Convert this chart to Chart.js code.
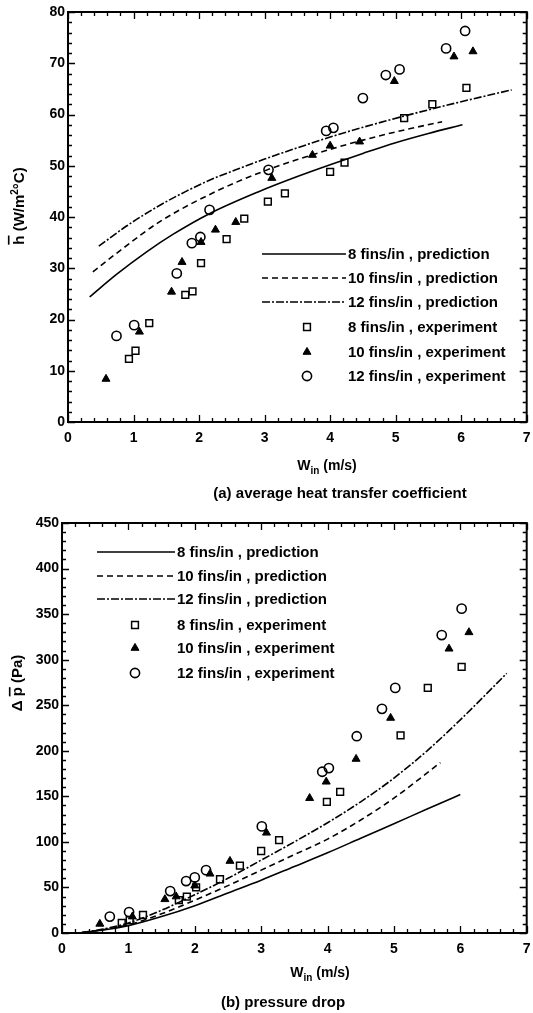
<!DOCTYPE html>
<html>
<head>
<meta charset="utf-8">
<script src="https://cdn.jsdelivr.net/npm/chart.js@4.4.0/dist/chart.umd.min.js"></script>
<style>
  html, body { margin: 0; padding: 0; background: #fff; }
  #wrap { position: relative; width: 533px; height: 1013px; }
  canvas { position: absolute; left: 0; }
</style>
</head>
<body>
<div id="wrap">
  <canvas id="hChart" width="533" height="505" style="top:0"></canvas>
  <canvas id="pChart" width="533" height="508" style="top:505px"></canvas>
</div>
<script>
// ---- data ----
const seriesLabels = ["8 fins/in , prediction", "10 fins/in , prediction", "12 fins/in , prediction",
                      "8 fins/in , experiment", "10 fins/in , experiment", "12 fins/in , experiment"];
const xTicks = [0, 1, 2, 3, 4, 5, 6, 7];
const hTicks = [0, 10, 20, 30, 40, 50, 60, 70, 80];
const dpTicks = [0, 50, 100, 150, 200, 250, 300, 350, 400, 450];

// (a) average heat transfer coefficient, [W_in m/s, h W/m2C]
const hPred8 = [[0.33, 24.4], [0.74, 28.8], [1.2, 33.2], [1.6, 36.6], [2.15, 40.6], [2.9, 44.9], [3.5, 47.9],
                [4.0, 50.2], [4.5, 52.4], [5.0, 54.5], [5.5, 56.3], [6.02, 58.0]];
const hPred10 = [[0.38, 29.3], [0.8, 33.5], [1.39, 39.0], [2.26, 45.0], [3.0, 49.0], [3.5, 51.2], [4.0, 53.2],
                 [4.5, 55.0], [5.0, 56.6], [5.71, 58.6]];
const hPred12 = [[0.47, 34.3], [0.9, 38.3], [1.39, 42.2], [1.8, 45.0], [2.2, 47.4], [2.6, 49.4], [3.0, 51.3],
                 [3.5, 53.5], [4.0, 55.6], [4.5, 57.5], [5.1, 59.6], [5.56, 61.1], [6.0, 62.5], [6.77, 64.8]];
const hExp8 = [[0.93, 12.3], [1.03, 13.9], [1.24, 19.3], [1.79, 24.8], [1.9, 25.5], [2.03, 31.0], [2.42, 35.7],
               [2.69, 39.7], [3.05, 43.0], [3.31, 44.6], [4.0, 48.8], [4.22, 50.6], [5.13, 59.3], [5.56, 62.0], [6.08, 65.2]];
const hExp10 = [[0.58, 8.4], [1.09, 17.6], [1.58, 25.4], [1.74, 31.2], [2.03, 35.1], [2.25, 37.5], [2.56, 39.0],
                [3.11, 47.6], [3.73, 52.1], [4.0, 53.9], [4.45, 54.7], [4.98, 66.5], [5.89, 71.3], [6.18, 72.3]];
const hExp12 = [[0.74, 16.8], [1.01, 18.9], [1.66, 29.0], [1.89, 34.9], [2.02, 36.1], [2.16, 41.4], [3.06, 49.2],
                [3.94, 56.8], [4.05, 57.4], [4.5, 63.2], [4.85, 67.7], [5.06, 68.8], [5.77, 72.9], [6.06, 76.3]];

// (b) pressure drop, [W_in m/s, dp Pa]
const dpPred8 = [[0.3, 0.5], [0.6, 3], [1.0, 8], [1.5, 18], [2.0, 30], [2.5, 44], [3.0, 58], [3.5, 73], [4.0, 88],
                 [4.5, 104], [5.0, 120], [5.5, 136], [6.0, 152]];
const dpPred10 = [[0.3, 0.5], [0.6, 3.5], [1.0, 9], [1.5, 21], [2.0, 36], [2.5, 52], [3.0, 69], [3.5, 86], [4.0, 103],
                  [4.5, 124], [5.0, 148], [5.7, 187]];
const dpPred12 = [[0.3, 0.5], [0.6, 4], [1.0, 11], [1.5, 25], [2.0, 42], [2.5, 60], [3.0, 80], [3.5, 100], [4.0, 121],
                  [4.5, 144], [5.0, 170], [5.5, 200], [6.0, 234], [6.7, 285]];
const dpExp8 = [[0.9, 11], [1.02, 14], [1.22, 20], [1.76, 36], [1.88, 40], [2.02, 50], [2.38, 59], [2.68, 74],
                [3.0, 90], [3.27, 102], [3.99, 144], [4.19, 155], [5.1, 217], [5.51, 269], [6.02, 292]];
const dpExp10 = [[0.57, 10], [1.06, 18], [1.55, 37], [1.72, 40], [2.0, 52], [2.23, 65], [2.53, 79], [3.08, 110],
                 [3.73, 148], [3.98, 166], [4.43, 191], [4.95, 236], [5.83, 312], [6.13, 330]];
const dpExp12 = [[0.72, 18], [1.01, 23], [1.63, 46], [1.87, 57], [2.0, 61], [2.17, 69], [3.01, 117], [3.92, 177],
                 [4.02, 181], [4.44, 216], [4.82, 246], [5.02, 269], [5.72, 327], [6.02, 356]];

const FONT = '"Liberation Sans", Arial, sans-serif';
Chart.defaults.font.family = FONT;
Chart.defaults.font.weight = 'bold';
Chart.defaults.color = '#000';

// frame box with inward major/minor ticks on all four sides
const frameTicks = {
  id: 'frameTicks',
  afterDatasetsDraw(chart, args, o) {
    const { ctx, chartArea: a, scales: { x, y } } = chart;
    ctx.save();
    ctx.strokeStyle = '#000';
    ctx.lineWidth = 1.3;
    ctx.beginPath();
    for (let i = 0; i <= Math.round((x.max - x.min) / o.xMinor); i++) {
      const v = x.min + i * o.xMinor;
      const px = Math.round(x.getPixelForValue(v)) + 0.5;
      const len = i % o.xEvery === 0 ? 7 : 4;
      ctx.moveTo(px, a.bottom); ctx.lineTo(px, a.bottom - len);
      ctx.moveTo(px, a.top); ctx.lineTo(px, a.top + len);
    }
    for (let i = 0; i <= Math.round((y.max - y.min) / o.yMinor); i++) {
      const v = y.min + i * o.yMinor;
      const py = Math.round(y.getPixelForValue(v)) + 0.5;
      const len = i % o.yEvery === 0 ? 7 : 4;
      ctx.moveTo(a.left, py); ctx.lineTo(a.left + len, py);
      ctx.moveTo(a.right, py); ctx.lineTo(a.right - len, py);
    }
    ctx.stroke();
    ctx.lineWidth = 2;
    ctx.strokeRect(a.left, a.top, a.right - a.left, a.bottom - a.top);
    ctx.restore();
  }
};

// text pieces with sub/superscripts and overbars
function drawRich(ctx, parts, cx, cy, size, rot) {
  const small = Math.round(size * 0.68);
  const fontOf = m => `bold ${m === 'sub' || m === 'sup' ? small : size}px ${FONT}`;
  let w = 0;
  parts.forEach(([t, m]) => { ctx.font = fontOf(m); w += ctx.measureText(t).width; });
  ctx.save();
  ctx.translate(cx, cy);
  ctx.rotate(rot);
  ctx.textBaseline = 'alphabetic';
  ctx.textAlign = 'left';
  const base = size * 0.36;
  let x = -w / 2;
  parts.forEach(([t, m, bar]) => {
    ctx.font = fontOf(m);
    const tw = ctx.measureText(t).width;
    let yy = base;
    if (m === 'sub') yy += size * 0.28;
    if (m === 'sup') yy -= size * 0.42;
    ctx.fillText(t, x, yy);
    if (bar) ctx.fillRect(x, base - size * bar, tw, 1.6);
    x += tw;
  });
  ctx.restore();
}

const axisText = {
  id: 'axisText',
  afterDraw(chart, args, o) {
    const ctx = chart.ctx;
    ctx.save();
    ctx.fillStyle = '#000';
    o.items.forEach(it => drawRich(ctx, it.parts, it.x, it.y, it.size, it.rot || 0));
    ctx.restore();
  }
};

// legend: line sample or marker, then label
const sampleLegend = {
  id: 'sampleLegend',
  afterDraw(chart, args, o) {
    const ctx = chart.ctx;
    ctx.save();
    chart.data.datasets.forEach((ds, i) => {
      const y = o.rows[i];
      ctx.strokeStyle = '#000';
      ctx.fillStyle = '#000';
      if (ds.showLine) {
        ctx.lineWidth = ds.borderWidth;
        ctx.setLineDash(ds.borderDash || []);
        ctx.beginPath();
        ctx.moveTo(o.lineX[0], y);
        ctx.lineTo(o.lineX[1], y);
        ctx.stroke();
        ctx.setLineDash([]);
      } else {
        const r = ds.pointRadius, mx = o.markX;
        ctx.lineWidth = ds.pointBorderWidth;
        ctx.beginPath();
        if (ds.pointStyle === 'rect') {
          const s = Math.SQRT1_2 * r;
          ctx.rect(mx - s, y - s, 2 * s, 2 * s);
          ctx.stroke();
        } else if (ds.pointStyle === 'triangle') {
          for (let k = 0; k < 3; k++) {
            const ang = k * 2 * Math.PI / 3;
            const px = mx + Math.sin(ang) * r, py = y - Math.cos(ang) * r;
            k ? ctx.lineTo(px, py) : ctx.moveTo(px, py);
          }
          ctx.closePath();
          ctx.fill();
          ctx.stroke();
        } else {
          ctx.arc(mx, y, r, 0, 2 * Math.PI);
          ctx.stroke();
        }
      }
      ctx.font = `bold ${o.size}px ${FONT}`;
      ctx.textBaseline = 'middle';
      ctx.fillText(ds.label, o.textX, y + 1);
    });
    ctx.restore();
  }
};

const toXY = arr => arr.map(([x, y]) => ({ x, y }));

function buildDatasets(p8, p10, p12, e8, e10, e12) {
  const line = (data, i, dash) => ({
    label: seriesLabels[i], data: toXY(data), showLine: true, borderColor: '#000', borderWidth: 1.6,
    borderDash: dash, pointRadius: 0, fill: false, cubicInterpolationMode: 'monotone'
  });
  const pts = (data, i, style, r, bw, fill) => ({
    label: seriesLabels[i], data: toXY(data), showLine: false, pointStyle: style, pointRadius: r,
    pointBorderWidth: bw, pointBorderColor: '#000', pointBackgroundColor: fill
  });
  return [
    line(p8, 0, []),
    line(p10, 1, [6, 4]),
    line(p12, 2, [8, 2, 2, 2]),
    pts(e8, 3, 'rect', 4.8, 1.5, 'rgba(0,0,0,0)'),
    pts(e10, 4, 'triangle', 4.6, 1, '#000'),
    pts(e12, 5, 'circle', 4.6, 1.6, 'rgba(0,0,0,0)')
  ];
}

function makeChart(id, datasets, yTicks, yMinor, g) {
  return new Chart(document.getElementById(id), {
    type: 'scatter',
    data: { datasets },
    plugins: [frameTicks, axisText, sampleLegend],
    options: {
      responsive: false,
      animation: false,
      events: [],
      layout: { padding: { top: g.top, right: g.right, left: 0, bottom: 0 } },
      scales: {
        x: {
          type: 'linear', min: xTicks[0], max: xTicks[xTicks.length - 1],
          afterBuildTicks: s => { s.ticks = xTicks.map(v => ({ value: v })); },
          afterFit: s => { s.height = g.xHeight; s.paddingLeft = 0; s.paddingRight = 0; },
          grid: { display: false, drawTicks: false },
          border: { display: false },
          ticks: { font: { size: 14, weight: 'bold' }, padding: 8, maxRotation: 0 }
        },
        y: {
          type: 'linear', min: yTicks[0], max: yTicks[yTicks.length - 1],
          afterBuildTicks: s => { s.ticks = yTicks.map(v => ({ value: v })); },
          afterFit: s => { s.width = g.yWidth; s.paddingTop = 0; s.paddingBottom = 0; },
          grid: { display: false, drawTicks: false },
          border: { display: false },
          ticks: { font: { size: 14, weight: 'bold' }, padding: 3 }
        }
      },
      plugins: {
        legend: { display: false },
        tooltip: { enabled: false },
        frameTicks: { xMinor: 0.2, xEvery: 5, yMinor: yMinor, yEvery: 5 },
        axisText: { items: g.texts },
        sampleLegend: g.legend
      }
    }
  });
}

makeChart('hChart', buildDatasets(hPred8, hPred10, hPred12, hExp8, hExp10, hExp12), hTicks, 2, {
  top: 12, right: 3, yWidth: 68, xHeight: 83,
  texts: [
    { parts: [['h', 'n', 1.1], [' (W/m', 'n'], ['2', 'sup'], ['\u00b0C)', 'n']], x: 19, y: 206, size: 15, rot: -Math.PI / 2 },
    { parts: [['W', 'n'], ['in', 'sub'], [' (m/s)', 'n']], x: 327, y: 465, size: 14 },
    { parts: [['(a) average heat transfer coefficient', 'n']], x: 340, y: 493, size: 15 }
  ],
  legend: { rows: [254, 278, 302, 327, 352, 376], lineX: [262, 346], markX: 307, textX: 348, size: 15 }
});

makeChart('pChart', buildDatasets(dpPred8, dpPred10, dpPred12, dpExp8, dpExp10, dpExp12), dpTicks, 10, {
  top: 18, right: 6, yWidth: 62, xHeight: 80,
  texts: [
    { parts: [['\u0394 ', 'n'], ['p', 'n', 0.9], [' (Pa)', 'n']], x: 17, y: 178, size: 15, rot: -Math.PI / 2 },
    { parts: [['W', 'n'], ['in', 'sub'], [' (m/s)', 'n']], x: 320, y: 467, size: 14 },
    { parts: [['(b) pressure drop', 'n']], x: 283, y: 497, size: 15 }
  ],
  legend: { rows: [47, 71, 94, 120, 143, 168], lineX: [97, 175], markX: 135, textX: 177, size: 15 }
});
</script>
</body>
</html>
